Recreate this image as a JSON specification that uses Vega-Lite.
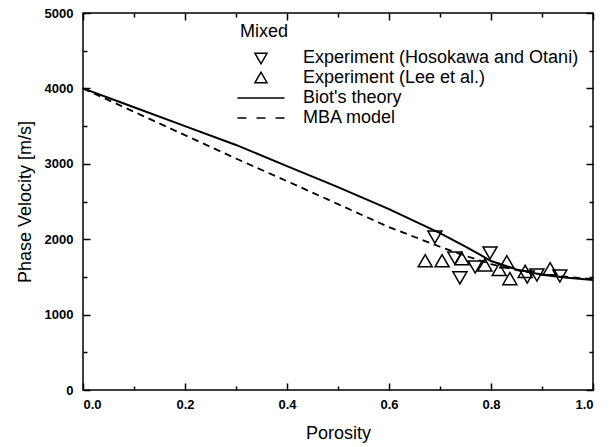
{
  "$schema": "https://vega.github.io/schema/vega-lite/v6.json",
  "width": 510,
  "height": 377,
  "autosize": "none",
  "padding": {"left": 83, "top": 13, "right": 20, "bottom": 57},
  "background": "white",
  "config": {
    "view": {"stroke": "black", "strokeWidth": 1.5},
    "font": "Liberation Sans",
    "axis": {"grid": false, "domain": false, "labelColor": "black", "titleColor": "black", "labelFont": "Liberation Sans", "labelFontWeight": "bold", "labelFontSize": 13, "titleFont": "Liberation Sans", "titleFontWeight": "normal", "titleFontSize": 18}
  },
  "datasets": {
    "biot": [
      {"p": 0.0, "v": 4000}, {"p": 0.1, "v": 3750}, {"p": 0.2, "v": 3500}, {"p": 0.3, "v": 3250},
      {"p": 0.4, "v": 2970}, {"p": 0.5, "v": 2690}, {"p": 0.6, "v": 2400}, {"p": 0.7, "v": 2080},
      {"p": 0.75, "v": 1900}, {"p": 0.78, "v": 1790}, {"p": 0.8, "v": 1710}, {"p": 0.85, "v": 1600},
      {"p": 0.9, "v": 1530}, {"p": 0.95, "v": 1490}, {"p": 1.0, "v": 1460}
    ],
    "mba": [
      {"p": 0.0, "v": 4000}, {"p": 0.1, "v": 3690}, {"p": 0.2, "v": 3380}, {"p": 0.3, "v": 3070},
      {"p": 0.4, "v": 2770}, {"p": 0.5, "v": 2465}, {"p": 0.6, "v": 2160}, {"p": 0.7, "v": 1900},
      {"p": 0.75, "v": 1780}, {"p": 0.8, "v": 1670}, {"p": 0.85, "v": 1590}, {"p": 0.9, "v": 1535},
      {"p": 0.95, "v": 1500}, {"p": 1.0, "v": 1470}
    ],
    "down": [
      {"p": 0.690, "v": 2037, "series": "Experiment (Hosokawa and Otani)"},
      {"p": 0.729, "v": 1759, "series": "Experiment (Hosokawa and Otani)"},
      {"p": 0.739, "v": 1495, "series": "Experiment (Hosokawa and Otani)"},
      {"p": 0.769, "v": 1640, "series": "Experiment (Hosokawa and Otani)"},
      {"p": 0.798, "v": 1825, "series": "Experiment (Hosokawa and Otani)"},
      {"p": 0.871, "v": 1508, "series": "Experiment (Hosokawa and Otani)"},
      {"p": 0.890, "v": 1534, "series": "Experiment (Hosokawa and Otani)"},
      {"p": 0.935, "v": 1521, "series": "Experiment (Hosokawa and Otani)"}
    ],
    "up": [
      {"p": 0.671, "v": 1706, "series": "Experiment (Lee et al.)"},
      {"p": 0.704, "v": 1706, "series": "Experiment (Lee et al.)"},
      {"p": 0.743, "v": 1733, "series": "Experiment (Lee et al.)"},
      {"p": 0.788, "v": 1650, "series": "Experiment (Lee et al.)"},
      {"p": 0.816, "v": 1590, "series": "Experiment (Lee et al.)"},
      {"p": 0.831, "v": 1693, "series": "Experiment (Lee et al.)"},
      {"p": 0.837, "v": 1468, "series": "Experiment (Lee et al.)"},
      {"p": 0.867, "v": 1565, "series": "Experiment (Lee et al.)"},
      {"p": 0.916, "v": 1600, "series": "Experiment (Lee et al.)"}
    ]
  },
  "resolve": {"axis": {"x": "independent", "y": "independent"}},
  "layer": [
    {
      "data": {"name": "biot"},
      "mark": {"type": "line", "color": "black", "strokeWidth": 2},
      "encoding": {
        "x": {"field": "p", "type": "quantitative", "scale": {"domain": [0, 1], "nice": false},
              "axis": {"orient": "bottom", "values": [0, 0.2, 0.4, 0.6, 0.8, 1], "format": ".1f", "ticks": true, "tickColor": "#000000", "tickWidth": 1.5, "tickSize": 7, "offset": -7, "labelPadding": 8, "title": "Porosity", "titlePadding": 13}},
        "y": {"field": "v", "type": "quantitative", "scale": {"domain": [0, 5000], "nice": false},
              "axis": {"orient": "left", "values": [0, 1000, 2000, 3000, 4000, 5000], "format": "d", "ticks": true, "tickColor": "#000000", "tickWidth": 1.5, "tickSize": 7, "offset": -7, "labelPadding": 10, "title": "Phase Velocity [m/s]", "titlePadding": 10}}
      }
    },
    {
      "data": {"name": "mba"},
      "mark": {"type": "line", "color": "black", "strokeWidth": 1.8, "strokeDash": [7, 5]},
      "encoding": {
        "x": {"field": "p", "type": "quantitative", "scale": {"domain": [0, 1], "nice": false},
              "axis": {"orient": "bottom", "values": [0.1, 0.3, 0.5, 0.7, 0.9], "ticks": true, "tickColor": "#000000", "tickWidth": 1.5, "tickSize": 4, "offset": -4, "labels": false, "title": null}},
        "y": {"field": "v", "type": "quantitative", "scale": {"domain": [0, 5000], "nice": false},
              "axis": {"orient": "left", "values": [500, 1500, 2500, 3500, 4500], "ticks": true, "tickColor": "#000000", "tickWidth": 1.5, "tickSize": 4, "offset": -4, "labels": false, "title": null}}
      }
    },
    {
      "data": {"name": "down"},
      "mark": {"type": "point", "filled": false, "color": "black", "opacity": 1, "strokeWidth": 1.5, "size": 348},
      "encoding": {
        "x": {"field": "p", "type": "quantitative", "scale": {"domain": [0, 1], "nice": false},
              "axis": {"orient": "top", "values": [0, 0.2, 0.4, 0.6, 0.8, 1], "ticks": true, "tickColor": "#000000", "tickWidth": 1.5, "tickSize": 7, "offset": -7, "labels": false, "title": null}},
        "y": {"field": "v", "type": "quantitative", "scale": {"domain": [0, 5000], "nice": false},
              "axis": {"orient": "right", "values": [0, 1000, 2000, 3000, 4000, 5000], "ticks": true, "tickColor": "#000000", "tickWidth": 1.5, "tickSize": 7, "offset": -7, "labels": false, "title": null}},
        "shape": {"field": "series", "type": "nominal",
                  "scale": {"domain": ["Experiment (Hosokawa and Otani)", "Experiment (Lee et al.)", "Biot's theory", "MBA model"],
                            "range": ["M-0.75,-0.58L0.75,-0.58L0,0.72Z", "M-0.75,0.58L0.75,0.58L0,-0.72Z", "M-2.94,0L2.94,0", "M-2.94,0L-1.82,0M-0.56,0L0.56,0M1.82,0L2.94,0"]},
                  "legend": {"orient": "none", "legendX": 157, "legendY": 10, "title": "Mixed", "symbolSize": 256, "symbolOffset": 12, "symbolStrokeColor": "black", "symbolFillColor": "transparent", "symbolStrokeWidth": 1.5, "symbolOpacity": 1, "labelFontSize": 18, "labelFont": "Liberation Sans", "labelColor": "black", "labelLimit": 400, "titleFontSize": 18, "titleFont": "Liberation Sans", "titleFontWeight": "normal", "titleColor": "black", "labelOffset": 33, "rowPadding": 2, "titlePadding": 8, "padding": 0}}
      }
    },
    {
      "data": {"name": "up"},
      "mark": {"type": "point", "filled": false, "color": "black", "opacity": 1, "strokeWidth": 1.5, "size": 348},
      "encoding": {
        "x": {"field": "p", "type": "quantitative", "scale": {"domain": [0, 1], "nice": false},
              "axis": {"orient": "top", "values": [0.1, 0.3, 0.5, 0.7, 0.9], "ticks": true, "tickColor": "#000000", "tickWidth": 1.5, "tickSize": 4, "offset": -4, "labels": false, "title": null}},
        "y": {"field": "v", "type": "quantitative", "scale": {"domain": [0, 5000], "nice": false},
              "axis": {"orient": "right", "values": [500, 1500, 2500, 3500, 4500], "ticks": true, "tickColor": "#000000", "tickWidth": 1.5, "tickSize": 4, "offset": -4, "labels": false, "title": null}},
        "shape": {"field": "series", "type": "nominal",
                  "scale": {"domain": ["Experiment (Hosokawa and Otani)", "Experiment (Lee et al.)", "Biot's theory", "MBA model"],
                            "range": ["M-0.75,-0.58L0.75,-0.58L0,0.72Z", "M-0.75,0.58L0.75,0.58L0,-0.72Z", "M-2.94,0L2.94,0", "M-2.94,0L-1.82,0M-0.56,0L0.56,0M1.82,0L2.94,0"]}}
      }
    }
  ]
}
